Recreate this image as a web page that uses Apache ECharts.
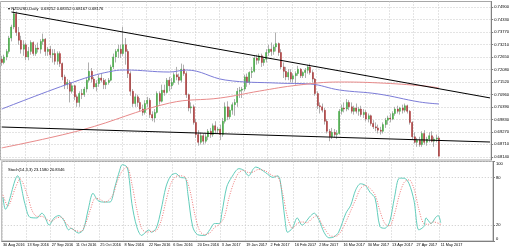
<!DOCTYPE html>
<html><head><meta charset="utf-8">
<script src="https://cdn.jsdelivr.net/npm/echarts@6/dist/echarts.min.js"></script>
<style>html,body{margin:0;padding:0;background:#fff}#c{width:512px;height:248px}</style>
</head><body><div id="c"></div><script>
const tickLabels = ['30 Aug 2016','13 Sep 2016','27 Sep 2016','11 Oct 2016','25 Oct 2016','8 Nov 2016','22 Nov 2016','6 Dec 2016','20 Dec 2016','3 Jan 2017','19 Jan 2017','2 Feb 2017','16 Feb 2017','2 Mar 2017','16 Mar 2017','30 Mar 2017','13 Apr 2017','27 Apr 2017','11 May 2017'];
const futureBars = 21;
const opens = [.7255,.7240,.7265,.7290,.7350,.7400,.7460,.7375,.7340,.7300,
.7320,.7265,.7290,.7330,.7280,.7305,.7300,.7335,.7345,.7290,
.7300,.7275,.7280,.7245,.7280,.7235,.7175,.7140,.7150,.7110,
.7135,.7085,.7060,.7100,.7095,.7120,.7160,.7200,.7165,.7130,
.7145,.7170,.7160,.7140,.7150,.7160,.7220,.7265,.7290,.7300,
.7280,.7320,.7290,.7190,.7110,.7055,.7085,.7060,.7030,.7015,
.7055,.7070,.7005,.6990,.7015,.7100,.7065,.7115,.7105,.7160,
.7135,.7150,.7185,.7175,.7160,.7210,.7190,.7095,.7035,.7040,
.6970,.6915,.6880,.6910,.6885,.6905,.6930,.6915,.6955,.6935,
.6940,.6915,.6975,.7040,.6995,.7025,.7050,.7060,.7110,.7115,
.7120,.7175,.7150,.7195,.7200,.7260,.7250,.7270,.7240,.7255,
.7285,.7300,.7290,.7310,.7325,.7285,.7220,.7200,.7175,.7195,
.7165,.7180,.7190,.7210,.7180,.7195,.7205,.7220,.7195,.7165,
.7100,.7045,.7040,.7025,.6975,.6930,.6905,.6925,.6915,.6920,
.7020,.7035,.7030,.7060,.7040,.7020,.7035,.7020,.7030,.7005,
.7015,.6985,.7000,.6965,.6950,.6945,.6935,.6930,.6960,.6980,
.6990,.6985,.7010,.7030,.7020,.7035,.7025,.7045,.7020,.6970,
.6905,.6880,.6890,.6870,.6920,.6880,.6895,.6910,.6885,.6895,.6900];
const highs = [.7270,.7275,.7300,.7360,.7410,.7485,.7470,.7400,.7360,.7340,
.7330,.7310,.7340,.7335,.7320,.7330,.7345,.7370,.7350,.7310,
.7315,.7300,.7300,.7290,.7290,.7240,.7185,.7165,.7160,.7150,
.7140,.7095,.7110,.7120,.7130,.7170,.7240,.7215,.7175,.7160,
.7185,.7190,.7170,.7165,.7170,.7230,.7280,.7300,.7320,.7320,
.7400,.7350,.7300,.7200,.7120,.7100,.7095,.7080,.7050,.7070,
.7085,.7080,.7020,.7030,.7110,.7110,.7140,.7140,.7170,.7175,
.7170,.7195,.7220,.7190,.7235,.7230,.7200,.7100,.7060,.7050,
.6985,.6935,.6925,.6920,.6920,.6940,.6945,.6965,.6975,.6950,
.6960,.6990,.7060,.7065,.7040,.7060,.7075,.7125,.7130,.7130,
.7185,.7190,.7200,.7220,.7270,.7275,.7280,.7280,.7265,.7300,
.7320,.7330,.7320,.7375,.7330,.7300,.7240,.7220,.7210,.7210,
.7190,.7200,.7225,.7215,.7200,.7215,.7230,.7235,.7205,.7170,
.7110,.7060,.7055,.7035,.6985,.6940,.6945,.6940,.6935,.7030,
.7050,.7060,.7075,.7070,.7060,.7045,.7055,.7040,.7045,.7030,
.7025,.7010,.7005,.6980,.6970,.6960,.6950,.6970,.6990,.7000,
.7010,.7020,.7040,.7045,.7040,.7050,.7055,.7050,.7025,.6975,
.6925,.6900,.6905,.6930,.6935,.6905,.6925,.6930,.6905,.6915,.6910];
const lows = [.7225,.7232,.7250,.7280,.7335,.7390,.7360,.7320,.7280,.7270,
.7250,.7250,.7275,.7270,.7270,.7285,.7280,.7320,.7270,.7270,
.7260,.7240,.7230,.7230,.7220,.7160,.7120,.7120,.7060,.7100,
.7070,.7040,.7040,.7075,.7085,.7105,.7150,.7150,.7120,.7110,
.7130,.7150,.7120,.7120,.7140,.7155,.7210,.7240,.7260,.7260,
.7270,.7230,.7170,.7090,.7040,.7040,.7040,.7020,.7000,.7005,
.7040,.6990,.6975,.6970,.7010,.7050,.7060,.7090,.7100,.7110,
.7120,.7140,.7160,.7140,.7150,.7180,.7080,.7020,.7010,.6960,
.6900,.6865,.6870,.6870,.6875,.6890,.6900,.6905,.6920,.6920,
.6890,.6905,.6965,.6980,.6985,.7005,.7000,.7040,.7080,.7080,
.7110,.7130,.7140,.7170,.7195,.7230,.7235,.7220,.7225,.7240,
.7270,.7270,.7275,.7290,.7270,.7210,.7170,.7160,.7160,.7150,
.7150,.7140,.7180,.7170,.7170,.7170,.7190,.7185,.7150,.7090,
.7030,.7010,.7015,.6960,.6920,.6885,.6895,.6900,.6895,.6915,
.7005,.7015,.7020,.7025,.7010,.7005,.7010,.7000,.6995,.6990,
.6975,.6970,.6955,.6940,.6930,.6920,.6915,.6920,.6945,.6960,
.6970,.6980,.7000,.7010,.7005,.7010,.7015,.7010,.6960,.6895,
.6875,.6860,.6860,.6860,.6870,.6865,.6880,.6880,.6860,.6880,.6816];
const closes = [.7240,.7265,.7290,.7350,.7400,.7460,.7375,.7340,.7300,.7320,
.7265,.7290,.7330,.7280,.7305,.7300,.7335,.7345,.7290,.7300,
.7275,.7280,.7245,.7280,.7235,.7175,.7140,.7150,.7110,.7135,
.7085,.7060,.7100,.7095,.7120,.7160,.7200,.7165,.7130,.7145,
.7170,.7160,.7140,.7150,.7160,.7220,.7265,.7290,.7300,.7280,
.7320,.7290,.7190,.7110,.7055,.7085,.7060,.7030,.7015,.7055,
.7070,.7005,.6990,.7015,.7100,.7065,.7115,.7105,.7160,.7135,
.7150,.7185,.7175,.7160,.7210,.7190,.7095,.7035,.7040,.6970,
.6915,.6880,.6910,.6885,.6905,.6930,.6915,.6955,.6935,.6940,
.6915,.6975,.7040,.6995,.7025,.7050,.7060,.7110,.7115,.7120,
.7175,.7150,.7195,.7200,.7260,.7250,.7270,.7240,.7255,.7285,
.7300,.7290,.7310,.7325,.7285,.7220,.7200,.7175,.7195,.7165,
.7180,.7190,.7210,.7180,.7195,.7205,.7220,.7195,.7165,.7100,
.7045,.7040,.7025,.6975,.6930,.6905,.6925,.6915,.6920,.7020,
.7035,.7030,.7060,.7040,.7020,.7035,.7020,.7030,.7005,.7015,
.6985,.7000,.6965,.6950,.6945,.6935,.6930,.6960,.6980,.6990,
.6985,.7010,.7030,.7020,.7035,.7025,.7045,.7020,.6970,.6905,
.6880,.6890,.6870,.6920,.6880,.6895,.6910,.6885,.6895,.6900,.68176];
const maBlue = [[0,.7030],[32,.7161],[46,.7202],[51,.7206],[69,.7197],[76,.7206],[92,.7161],[114,.7147],[127,.7143],[139,.7116],[155,.7098],[172,.7062],[180,.7053]];
const maRed = [[0,.6855],[33,.6936],[69,.7057],[90,.7080],[106,.7111],[122,.7138],[139,.7152],[155,.7148],[174,.7134],[180,.7125]];
const trendUpper = [[4,.74675],[201,.70803]];
const trendLower = [[0,.69492],[201,.68816]];
const priceTicks = [.68140,.68710,.69270,.69830,.70390,.70960,.71520,.72080,.72650,.73210,.73770,.74330,.74900];
const stochTicks = [0,20,80,100];
const stochK = [[0,55],[1,40],[6,82],[9,47],[11,30],[14,29],[16,35],[17,32],[19,20],[21,29],[23,32],[25,26],[27,14],[28,16],[31,10],[33,14],[35,39],[37,60],[39,51],[41,49],[44,49],[46,68],[48,89],[49,96],[51,93],[52,76],[53,47],[55,18],[57,7],[60,14],[61,11],[63,16],[65,39],[67,68],[69,82],[71,85],[73,80],[75,79],[76,60],[78,18],[80,8],[83,7],[85,14],[87,22],[89,22],[90,35],[92,68],[94,80],[97,91],[99,89],[101,82],[103,91],[104,93],[108,86],[111,80],[113,82],[114,76],[116,26],[117,11],[119,16],[121,29],[123,20],[124,22],[126,30],[128,35],[130,26],[132,11],[134,4],[136,5],[138,11],[141,35],[143,45],[145,64],[147,72],[149,70],[151,61],[153,54],[155,18],[157,16],[159,24],[161,55],[163,79],[165,79],[167,72],[169,51],[171,14],[173,18],[174,29],[176,22],[178,30],[179,32],[180,23]];
const stochD = [[0,58],[2,44],[5,66],[7,78],[10,58],[12,38],[14,31],[16,31],[18,27],[20,25],[22,29],[24,30],[26,22],[28,16],[30,13],[32,12],[34,22],[36,40],[38,54],[40,52],[42,49],[45,57],[47,75],[49,88],[51,93],[53,72],[55,40],[57,16],[59,11],[61,12],[63,13],[65,25],[67,50],[69,72],[71,81],[73,82],[75,80],[77,62],[79,32],[81,12],[83,8],[85,10],[87,17],[89,21],[91,30],[93,55],[95,74],[97,86],[99,89],[101,86],[103,87],[105,90],[108,88],[111,82],[113,81],[115,60],[117,30],[119,16],[121,22],[123,24],[125,23],[127,28],[129,32],[131,22],[133,12],[135,6],[137,6],[139,12],[141,24],[143,38],[145,52],[147,66],[149,70],[151,66],[153,58],[155,38],[157,22],[159,19],[161,34],[163,58],[165,74],[167,77],[169,66],[171,40],[173,22],[175,21],[177,24],[180,21]];
const headerText = 'NZDUSD,Daily  0.68252 0.68352 0.68167 0.68176';
const stochText = 'Stoch(14,3,3) 23.1580 20.8346';
const lastPrice = 0.68176;

const n = closes.length + futureBars;
const cats = Array.from({length: n}, (_, i) => String(i));
const full = closes.map((c, i) => [opens[i], c, lows[i], highs[i]]);
const bodies = closes.map((c, i) => [opens[i], c, Math.min(opens[i], c), Math.max(opens[i], c)]);
const showTick = (idx) => idx % 10 === 0 && idx / 10 < tickLabels.length;
const FONT = 'Liberation Sans';
const FS = 4.1;
const dotted = {color: '#c8c8c8', width: 1, type: [1, 2]};

const chart = echarts.init(document.getElementById('c'), null, {renderer: 'canvas'});
chart.setOption({
  animation: false,
  backgroundColor: '#fff',
  title: [
    {text: '\u25BE ' + headerText, left: 3, top: 2, textStyle: {fontSize: FS, fontWeight: 'normal', color: '#000', fontFamily: FONT}},
    {text: stochText, left: 3, top: 163, textStyle: {fontSize: FS, fontWeight: 'normal', color: '#000', fontFamily: FONT}}
  ],
  grid: [
    {left: 0.5, width: 492.5, top: 1.5, height: 158.5, show: true, borderColor: '#a8a8a8', borderWidth: 1},
    {left: 0.5, width: 492.5, top: 161.5, height: 79.5, show: true, borderColor: '#a8a8a8', borderWidth: 1}
  ],
  xAxis: [
    {type: 'category', gridIndex: 0, data: cats, boundaryGap: true,
     axisLine: {show: false}, axisTick: {show: false}, axisLabel: {show: false},
     splitLine: {show: true, interval: showTick, lineStyle: dotted}},
    {type: 'category', gridIndex: 1, data: cats, boundaryGap: true,
     axisLine: {show: true, lineStyle: {color: '#808080'}}, axisTick: {show: false},
     axisLabel: {show: true, interval: showTick, formatter: (v, idx) => tickLabels[idx / 10] || '', align: 'left', fontSize: 3.8, color: '#000', fontFamily: FONT, margin: 2},
     splitLine: {show: true, interval: showTick, lineStyle: dotted}}
  ],
  yAxis: [
    {type: 'value', gridIndex: 0, position: 'right', min: 0.68005, max: 0.75148,
     axisLine: {show: true, lineStyle: {color: '#808080'}},
     axisTick: {show: true, length: 2, customValues: priceTicks, lineStyle: {color: '#808080'}},
     axisLabel: {customValues: priceTicks, formatter: v => v.toFixed(5), fontSize: FS, color: '#000', fontFamily: FONT, margin: 3},
     splitLine: {show: true, lineStyle: dotted}},
    {type: 'value', gridIndex: 1, position: 'right', min: 0, max: 100,
     axisLine: {show: true, lineStyle: {color: '#808080'}},
     axisTick: {show: true, length: 2, customValues: stochTicks, lineStyle: {color: '#808080'}},
     axisLabel: {customValues: stochTicks, fontSize: FS, color: '#000', fontFamily: FONT, margin: 3,
       verticalAlignMaxLabel: 'top', verticalAlignMinLabel: 'bottom'},
     splitLine: {show: true, lineStyle: dotted}}
  ],
  series: [
    {type: 'candlestick', xAxisIndex: 0, yAxisIndex: 0, data: full, barWidth: 0.6, clip: false,
     itemStyle: {color: '#9a9a9a', color0: '#9a9a9a', borderColor: '#9a9a9a', borderColor0: '#9a9a9a', borderWidth: 0.8}},
    {type: 'candlestick', xAxisIndex: 0, yAxisIndex: 0, data: bodies, barWidth: 1.5, clip: false,
     itemStyle: {color: '#36a836', color0: '#a82a2a', borderColor: '#36a836', borderColor0: '#a82a2a', borderWidth: 0.4},
     markLine: {silent: true, symbol: 'none', data: [{yAxis: lastPrice}], lineStyle: {opacity: 0},
       label: {show: true, position: 'end', distance: 1, formatter: lastPrice.toFixed(5), backgroundColor: '#000', color: '#fff', fontSize: FS, fontFamily: FONT, padding: [1, 1, 0, 1]}}},
    {type: 'line', xAxisIndex: 0, yAxisIndex: 0, data: maBlue, symbol: 'none', smooth: 0.4, lineStyle: {color: '#7c7cd8', width: 1}},
    {type: 'line', xAxisIndex: 0, yAxisIndex: 0, data: maRed, symbol: 'none', smooth: 0.4, lineStyle: {color: '#e88a8a', width: 1}},
    {type: 'line', xAxisIndex: 0, yAxisIndex: 0, data: trendUpper, symbol: 'none', lineStyle: {color: '#000', width: 1}},
    {type: 'line', xAxisIndex: 0, yAxisIndex: 0, data: trendLower, symbol: 'none', lineStyle: {color: '#000', width: 1}},
    {type: 'line', xAxisIndex: 1, yAxisIndex: 1, data: stochK, symbol: 'none', smooth: 0.3, lineStyle: {color: '#62cdbb', width: 1}},
    {type: 'line', xAxisIndex: 1, yAxisIndex: 1, data: stochD, symbol: 'none', smooth: 0.3, lineStyle: {color: '#f07878', width: 1, type: [1, 1.5]}}
  ]
});
</script></body></html>
